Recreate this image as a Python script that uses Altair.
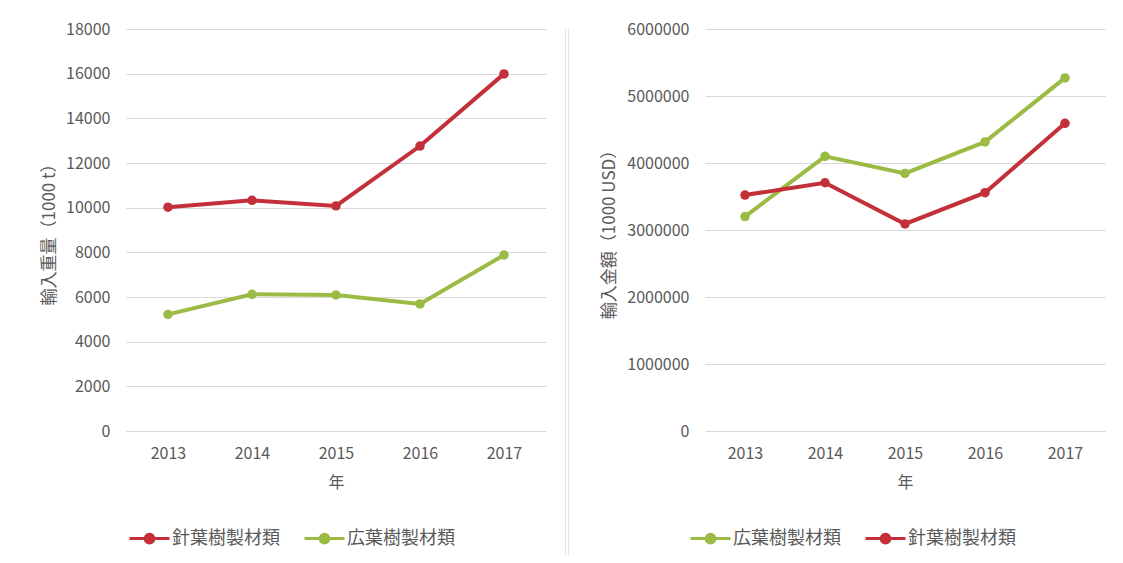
import altair as alt
import pandas as pd

years = ["2013", "2014", "2015", "2016", "2017"]
series_conifer = "針葉樹製材類"
series_broad = "広葉樹製材類"

# import volume (1000 t)
vol_conifer = [10020, 10330, 10080, 12760, 15990]
vol_broad = [5220, 6120, 6090, 5690, 7880]

# import value (1000 USD)
val_broad = [3200000, 4100000, 3845000, 4315000, 5270000]
val_conifer = [3522000, 3705000, 3090000, 3557000, 4592000]

RED = "#C4303A"
GREEN = "#9BBB45"
TXT = "#595959"
GRID = "#D9D9D9"
FONT = "Noto Sans CJK JP"

vol_df = pd.DataFrame(
    {"年": years * 2,
     "系列": [series_conifer] * 5 + [series_broad] * 5,
     "値": vol_conifer + vol_broad}
)
val_df = pd.DataFrame(
    {"年": years * 2,
     "系列": [series_broad] * 5 + [series_conifer] * 5,
     "値": val_broad + val_conifer}
)

LEG_PATH = ("M-1,0L-0.22,0M0.22,0L1,0"
            "M-0.22,0A0.22,0.22 0 1,0 0.22,0A0.22,0.22 0 1,0 -0.22,0Z"
            "M-0.1,0A0.1,0.1 0 1,0 0.1,0A0.1,0.1 0 1,0 -0.1,0Z")

color_expr = f"datum.value === '{series_conifer}' ? '{RED}' : '{GREEN}'"


def panel(df, order, colors, ytitle, ymax, step, extent, tpad, legx, width):
    legend = alt.Legend(
        title=None, orient="none", direction="horizontal",
        legendX=legx, legendY=488,
        symbolType=LEG_PATH, symbolSize=1600, symbolStrokeWidth=3,
        symbolStrokeColor={"expr": color_expr},
        symbolFillColor={"expr": color_expr},
        labelFontSize=18, labelColor=TXT, labelFont=FONT, labelOffset=1,
        columnPadding=18,
    )
    x = alt.X("年:N", sort=years, title="年",
              scale=alt.Scale(paddingInner=0, paddingOuter=0),
              axis=alt.Axis(labelAngle=0, ticks=False, domain=False, grid=False,
                            labelPadding=14, titlePadding=13, titleFontSize=16))
    y = alt.Y("値:Q", title=ytitle,
              scale=alt.Scale(domain=[0, ymax], nice=False),
              axis=alt.Axis(values=list(range(0, ymax + 1, step)), format="d",
                            ticks=False, domain=False, labelPadding=16,
                            minExtent=extent, maxExtent=extent, titlePadding=tpad,
                            titleFontSize=17))
    cscale = alt.Scale(domain=order, range=colors)
    line = alt.Chart(df).mark_line(
        strokeWidth=4, point=alt.OverlayMarkDef(filled=True, size=90, opacity=1)
    ).encode(
        x=x, y=y, color=alt.Color("系列:N", scale=cscale, sort=order, legend=legend),
    )
    return line.properties(width=width, height=402)


left = panel(vol_df, [series_conifer, series_broad], [RED, GREEN],
             "輸入重量（1000 t）", 18000, 2000, 62, 6, 2, 420)

sep = alt.Chart(pd.DataFrame({"p": [439.5, 442.5]})).mark_rule(
    color="#E3E3E3", strokeWidth=1
).encode(x=alt.X("p:Q", scale=None), y=alt.value(0), y2=alt.value(526))

left = alt.layer(left, sep)

right = panel(val_df, [series_broad, series_conifer], [GREEN, RED],
              "輸入金額（1000 USD）", 6000000, 1000000, 81, 6, -16, 400)

chart = alt.hconcat(left, right, spacing=31).resolve_scale(color="independent").properties(
    padding={"left": 40, "top": 21, "right": 10, "bottom": 5},
    background="white",
).configure_view(stroke=None).configure_axis(
    labelFont=FONT, titleFont=FONT, labelColor=TXT, titleColor=TXT,
    labelFontSize=16, titleFontWeight="normal",
    gridColor=GRID, gridWidth=1,
)

chart.save("out.html", embed_options={"renderer": "svg", "actions": False})
